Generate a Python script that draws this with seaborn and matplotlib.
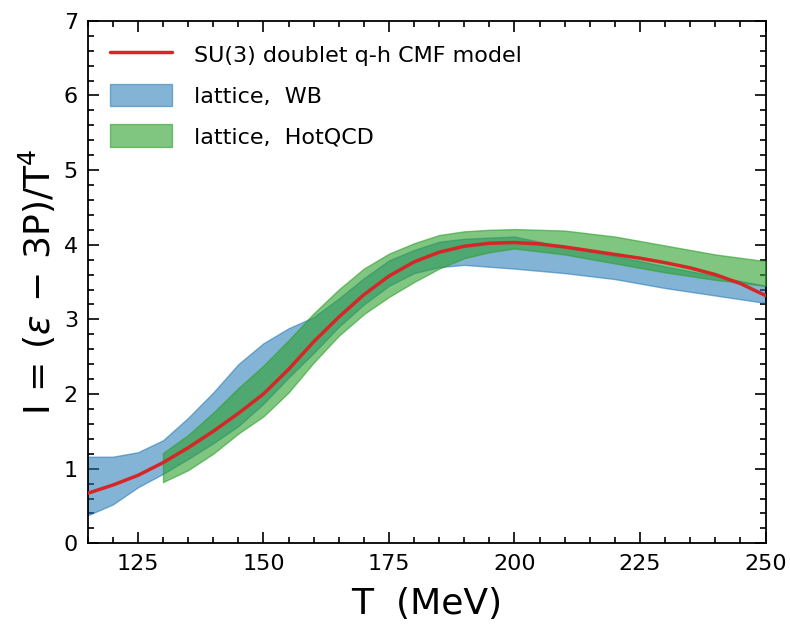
import numpy as np
import pandas as pd
import matplotlib
matplotlib.use("Agg")
import matplotlib.pyplot as plt
import seaborn as sns
from matplotlib.ticker import MultipleLocator

# ---- data ----
T_wb = [115, 120, 125, 130, 135, 140, 145, 150, 155, 160, 165, 170, 175, 180, 185, 190, 200, 210, 220, 230, 240, 250]
wb_upper = [1.16, 1.16, 1.22, 1.38, 1.68, 2.02, 2.40, 2.68, 2.88, 3.03, 3.28, 3.55, 3.79, 3.93, 4.04, 4.08, 4.11, 3.97, 3.85, 3.71, 3.58, 3.45]
wb_lower = [0.375, 0.52, 0.75, 0.93, 1.13, 1.34, 1.57, 1.87, 2.22, 2.55, 2.90, 3.20, 3.45, 3.62, 3.70, 3.73, 3.68, 3.62, 3.54, 3.42, 3.32, 3.22]

T_hq = [130, 135, 140, 145, 150, 155, 160, 165, 170, 175, 180, 185, 190, 195, 200, 210, 220, 230, 240, 250]
hq_upper = [1.21, 1.45, 1.75, 2.08, 2.38, 2.72, 3.08, 3.40, 3.68, 3.88, 4.02, 4.13, 4.18, 4.20, 4.21, 4.19, 4.11, 3.99, 3.87, 3.78]
hq_lower = [0.82, 0.98, 1.20, 1.47, 1.70, 2.02, 2.42, 2.78, 3.07, 3.30, 3.50, 3.68, 3.82, 3.90, 3.95, 3.87, 3.75, 3.63, 3.53, 3.45]

T_model = [115, 120, 125, 130, 135, 140, 145, 150, 155, 160, 165, 170, 175, 180, 185, 190, 195, 200,
           205, 210, 215, 220, 225, 230, 235, 240, 245, 250]
I_model = [0.67, 0.78, 0.91, 1.08, 1.28, 1.50, 1.74, 2.00, 2.33, 2.70, 3.03, 3.33, 3.58, 3.77, 3.90, 3.98, 4.02, 4.03,
           4.01, 3.97, 3.92, 3.87, 3.82, 3.76, 3.69, 3.60, 3.48, 3.32]

sns.set_style("ticks")
plt.rcParams['font.family'] = ['DejaVu Sans']
plt.rcParams['mathtext.fontset'] = 'dejavusans'
plt.rcParams['text.color'] = 'black'
plt.rcParams['axes.labelcolor'] = 'black'
plt.rcParams['xtick.color'] = 'black'
plt.rcParams['ytick.color'] = 'black'

fig = plt.figure(figsize=(7.9, 6.31), dpi=100)
ax = fig.add_axes([0.111, 0.139, 0.858, 0.828])

blue = '#1f77b4'
green = '#2ca02c'
ax.fill_between(T_wb, wb_lower, wb_upper, facecolor=blue, alpha=0.55, edgecolor=blue, linewidth=1.0,
                label='lattice,  WB', zorder=2)
ax.fill_between(T_hq, hq_lower, hq_upper, facecolor=green, alpha=0.6, edgecolor=green, linewidth=1.0,
                label='lattice,  HotQCD', zorder=3)

df = pd.DataFrame({'T': T_model, 'I': I_model})
sns.lineplot(data=df, x='T', y='I', ax=ax, color='#d62728', linewidth=2.5,
             label='SU(3) doublet q-h CMF model', zorder=4)

ax.set_xlim(115, 250)
ax.set_ylim(0, 7)
ax.xaxis.set_major_locator(MultipleLocator(25))
ax.xaxis.set_minor_locator(MultipleLocator(5))
ax.yaxis.set_major_locator(MultipleLocator(1))
ax.yaxis.set_minor_locator(MultipleLocator(0.2))
ax.tick_params(which='both', direction='in', top=True, right=True, labelsize=16, width=1.2,
               color='black', labelcolor='black')
ax.tick_params(axis='x', which='major', pad=8)
ax.tick_params(axis='y', which='major', pad=7)
ax.tick_params(which='major', length=8)
ax.tick_params(which='minor', length=4)
for s in ax.spines.values():
    s.set_linewidth(1.3)
    s.set_color('black')

ax.set_xlabel('T  (MeV)', fontsize=26, labelpad=9, color='black')
ax.set_ylabel(r'$\mathrm{I}\,=\,(\epsilon\,-\,3\mathrm{P})/\mathrm{T}^4$', fontsize=26, labelpad=4, color='black')

h, l = ax.get_legend_handles_labels()
order = [l.index('SU(3) doublet q-h CMF model'), l.index('lattice,  WB'), l.index('lattice,  HotQCD')]
leg = ax.legend([h[i] for i in order], [l[i] for i in order], loc='upper left', frameon=False, fontsize=16,
                handlelength=2.8, handleheight=1.2, handletextpad=1.0, borderaxespad=0.6, labelspacing=0.8)
for t in leg.get_texts():
    t.set_color('black')

fig.savefig('out.png', dpi=100)
